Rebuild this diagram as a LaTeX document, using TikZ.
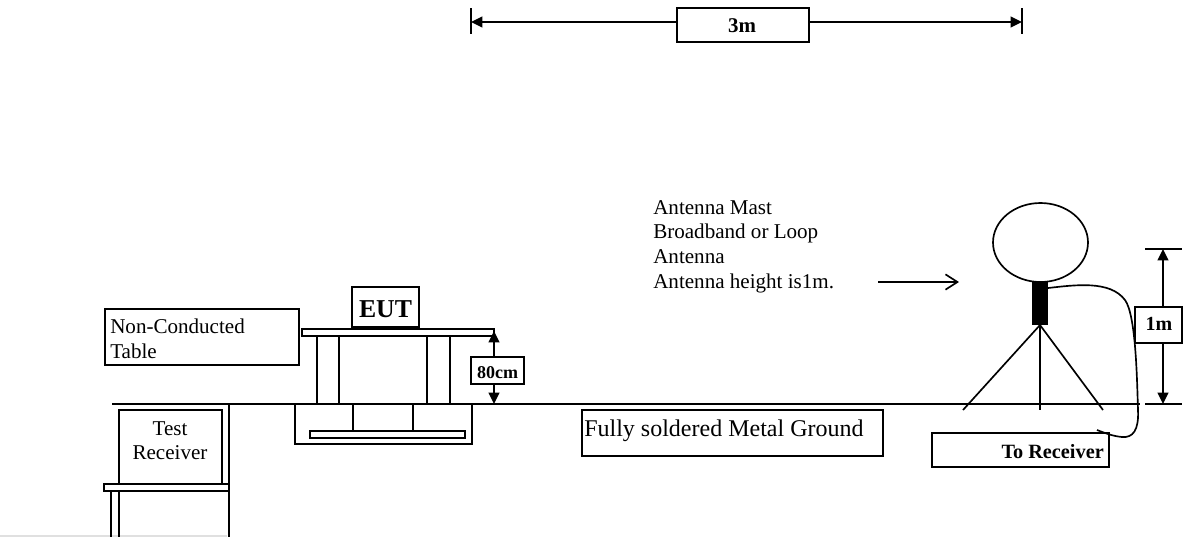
\documentclass[tikz,border=0pt]{standalone}
\usepackage{fontspec}
\setmainfont{Liberation Serif}
\usetikzlibrary{arrows.meta,shapes.geometric}
\tikzset{
 x=0.75pt,y=-0.75pt,
 ln/.style={draw=black,line width=1.25pt},
 boxs/.style={draw=black,line width=1.25pt,fill=white,inner sep=0pt},
 dimarrow/.style={draw=black,line width=1.25pt,{Triangle[length=8.5pt,width=8pt]}-{Triangle[length=8.5pt,width=8pt]}},
 txtl/.style={inner sep=0pt,anchor=north west,align=left,font=\fontsize{15.8}{18.6}\selectfont},
 txtb/.style={inner sep=0pt,anchor=base,font=\fontsize{#1}{#1}\selectfont\bfseries},
}
\newcommand{\rbox}[5]{\node[boxs,minimum width=#4*0.75pt-#2*0.75pt,minimum height=#5*0.75pt-#3*0.75pt] (#1) at ({(#2+#4)/2},{(#3+#5)/2}) {};}
\begin{document}
\begin{tikzpicture}
\useasboundingbox (0,0) rectangle (1185,537);
% coordinates
\coordinate (gL) at (112,404); \coordinate (gR) at (1140,404);
\coordinate (barLa) at (471,8); \coordinate (barLb) at (471,34);
\coordinate (barRa) at (1022,8); \coordinate (barRb) at (1022,34);
\coordinate (dimL) at (471,22); \coordinate (dimR) at (1022,22);
\coordinate (h1a) at (1145,249); \coordinate (h1b) at (1182,249);
\coordinate (h2a) at (1145,404); \coordinate (h2b) at (1182,404);
\coordinate (h1) at (1163,249); \coordinate (h2) at (1163,404);
\coordinate (t80) at (494,331); \coordinate (b80) at (494,404);
\coordinate (apex) at (1040,325);
\coordinate (legA) at (963,410); \coordinate (legB) at (1040,410); \coordinate (legC) at (1103,410);
\coordinate (arrA) at (878,282); \coordinate (arrB) at (959,282);
\coordinate (cblA) at (1048,288); \coordinate (cblB) at (1097,430);
\coordinate (vTop) at (229,404); \coordinate (vBot) at (229,537);
\coordinate (gr1) at (0,536); \coordinate (gr2) at (227,536);
% faint bottom edge
\draw[draw=black!12,line width=0.8pt] (gr1) -- (gr2);
% 3m dimension
\draw[ln,line width=1.5pt] (barLa) -- (barLb);
\draw[ln,line width=1.5pt] (barRa) -- (barRb);
\draw[dimarrow] (dimL) -- (dimR);
\rbox{boxThree}{677}{8}{809}{42}
\node[txtb=15.7] (lblThree) at (742,32) {3m};
% ground line
\draw[ln] (gL) -- (gR);
% table with EUT
\rbox{legL}{317}{336}{339}{404}
\rbox{legR}{427}{336}{450}{404}
\rbox{tableTop}{302}{329}{494}{336}
\rbox{eut}{352}{287}{419}{327}
\node[txtb=19.3] (lblEut) at (385.5,317) {EUT};
% base below ground
\rbox{base}{295}{404}{472}{444}
\rbox{baseIn}{353}{404}{413}{431}
\rbox{plate}{310}{431}{465}{438}
% non-conducted
\rbox{nonBox}{105}{309}{299}{365}
\node[txtl] (lblNon) at (110,319) {Non-Conducted\\Table};
% 80 cm
\draw[dimarrow] (t80) -- (b80);
\rbox{box80}{471}{357}{524}{384}
\node[txtb=13.5] (lbl80) at (497.5,378) {80cm};
% test receiver
\draw[ln] (vTop) -- (vBot);
\rbox{recv}{119}{410}{222}{484}
\node[txtl,align=center,anchor=north] (lblRecv) at (170,421) {Test\\Receiver};
\rbox{recvTable}{104}{484}{229}{491}
\coordinate (rl1) at (111,491); \coordinate (rl1b) at (111,537);
\coordinate (rl2) at (119,491); \coordinate (rl2b) at (119,537);
\draw[ln] (rl1) -- (rl1b);
\draw[ln] (rl2) -- (rl2b);
% ground label
\rbox{gndBox}{582}{410}{883}{456}
\node[inner sep=0pt,anchor=base west,font=\fontsize{18}{20}\selectfont] (lblGnd) at (584,436) {Fully soldered Metal Ground};
% antenna text
\node[txtl] (lblAnt) at (653,200) {Antenna Mast\\Broadband or Loop\\Antenna\\Antenna height is1m.};
\draw[ln,-{Straight Barb[length=9pt,width=11.5pt]}] (arrA) -- (arrB);
% antenna
\node[draw=black,line width=1.25pt,ellipse,minimum width=95*0.75pt,minimum height=79*0.75pt,inner sep=0pt] (loop) at (1040.5,242.5) {};
\node[fill=black,inner sep=0pt,minimum width=16*0.75pt,minimum height=44*0.75pt] (mast) at (1040,303) {};
\draw[ln] (apex) -- (legA);
\draw[ln] (apex) -- (legB);
\draw[ln] (apex) -- (legC);
% 1m
\draw[ln] (h1a) -- (h1b);
\draw[ln] (h2a) -- (h2b);
\draw[dimarrow] (h1) -- (h2);
\rbox{boxOne}{1135}{307}{1182}{343}
\node[txtb=15] (lblOne) at (1159,330) {1m};
% to receiver
\rbox{toRecv}{932}{433}{1109}{467}
\node[txtb=15.2,anchor=base east] (lblTo) at (1104,458) {To Receiver};
% cable
\draw[ln] (cblA) .. controls (1075,285) and (1110,280) .. (1125,300) .. controls (1136,315) and (1137,380) .. (1138,410) .. controls (1139,430) and (1133,438) .. (1122,437) .. controls (1112,436) and (1105,433) .. (cblB);
\end{tikzpicture}
\end{document}
